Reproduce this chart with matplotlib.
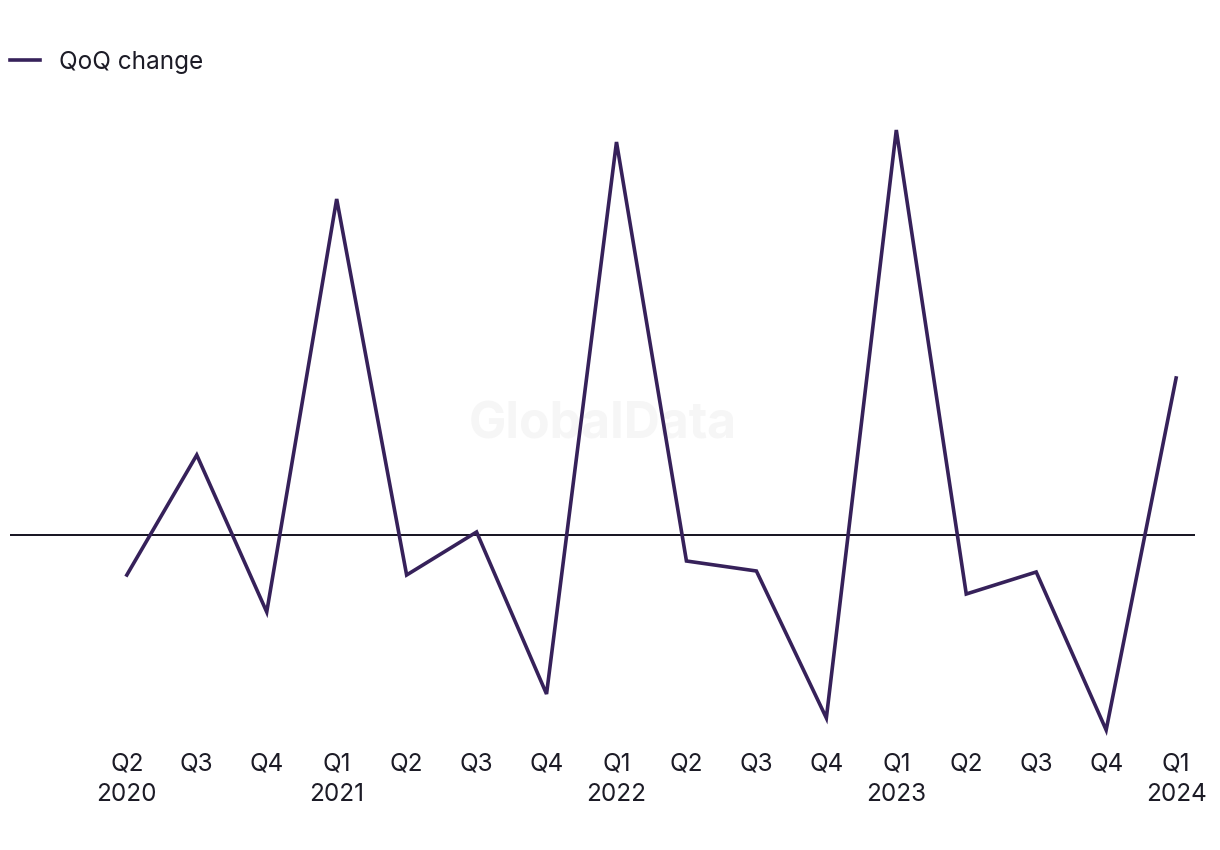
import matplotlib.pyplot as plt

# Quarterly QoQ change (%)
quarters = ['Q2\n2020', 'Q3', 'Q4', 'Q1\n2021', 'Q2', 'Q3', 'Q4', 'Q1\n2022',
            'Q2', 'Q3', 'Q4', 'Q1\n2023', 'Q2', 'Q3', 'Q4', 'Q1\n2024']
qoq_change = [-4.0, 8.0, -7.7, 33.6, -4.0, 0.3, -15.9, 39.3,
              -2.6, -3.6, -18.3, 40.5, -5.9, -3.7, -19.5, 15.7]

plt.rcParams['font.family'] = ['Inter', 'DejaVu Sans']

fig = plt.figure(figsize=(12.2, 8.5), dpi=100)
ax = fig.add_axes([10 / 1220, 1 - 740 / 850, 1185 / 1220, 630 / 850])

x = list(range(len(qoq_change)))
ax.plot(x, qoq_change, color='#36215a', linewidth=2.6, solid_joinstyle='miter',
        label='QoQ change', zorder=3)
ax.axhline(0, color='#14121f', linewidth=1.4, zorder=2)

ax.set_xlim(-1.67, 15.27)
ax.set_ylim(-20.5, 42.5)
ax.set_xticks(x)
ax.set_xticklabels(quarters, fontsize=17.5, color='#1c1b26', linespacing=1.4)
ax.tick_params(axis='x', length=0, pad=9)
ax.set_yticks([])
for s in ax.spines.values():
    s.set_visible(False)

# watermark
ax.text(0.5, (740 - 425) / 630, 'GlobalData', transform=ax.transAxes,
        fontsize=36, fontweight='bold', color='#f6f6f6',
        ha='center', va='center', zorder=0)

fig.legend(loc='center left', bbox_to_anchor=(10 / 1220, 1 - 62 / 850),
           frameon=False, fontsize=17.5, handlelength=1.25, handletextpad=0.75,
           borderpad=0, borderaxespad=0, labelcolor='#1c1b26')

fig.savefig('out.png', dpi=100)
